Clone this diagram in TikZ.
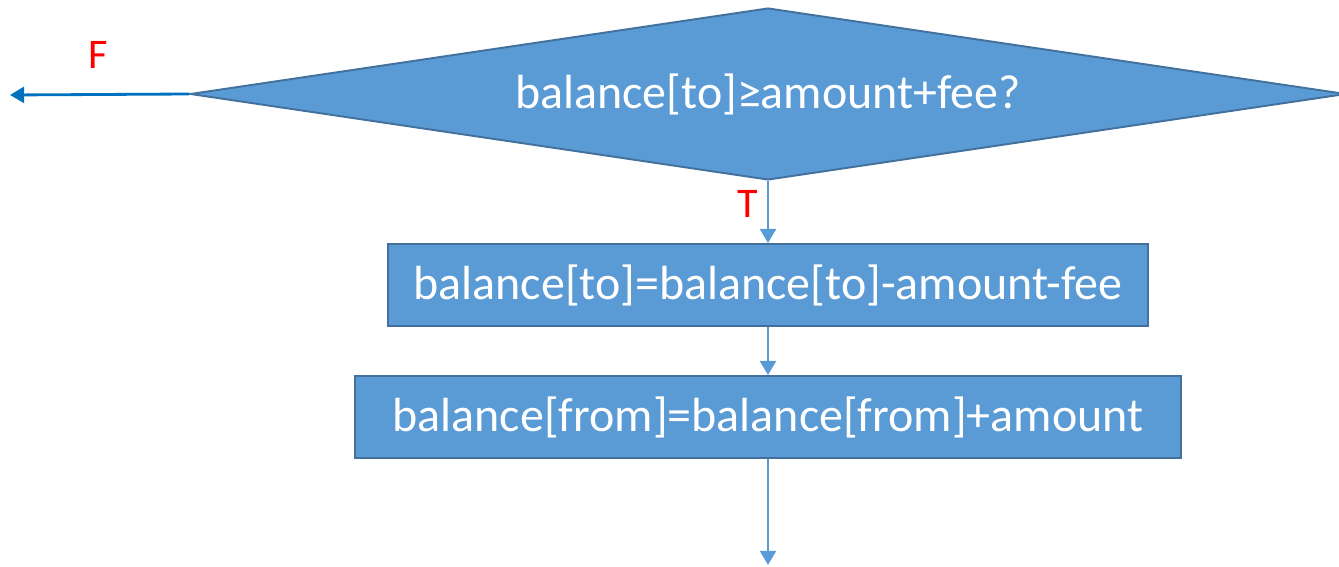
\documentclass[tikz,border=0pt]{standalone}
\usepackage{fontspec}
\setmainfont{Carlito}
\usetikzlibrary{shapes.geometric,positioning,arrows.meta}
\definecolor{boxfill}{HTML}{5B9BD5}
\definecolor{boxline}{HTML}{41719C}
\definecolor{flowline}{HTML}{5B9BD5}
\definecolor{falseline}{HTML}{0070C0}
\tikzset{>={Triangle[length=8pt,width=9pt]}}
\begin{document}
\begin{tikzpicture}[x=0.02cm, y=-0.02cm,
    decision/.style={diamond, aspect=6.72, draw=boxline, fill=boxfill, line width=1.1pt, text=white,
        minimum width=23.12cm, minimum height=3.44cm, inner sep=0pt, font=\fontsize{27.3}{30}\selectfont},
    process/.style={rectangle, draw=boxline, fill=boxfill, line width=1.1pt, text=white,
        minimum height=1.64cm, font=\fontsize{27.3}{30}\selectfont},
    flow/.style={->, draw=flowline, line width=1.6pt},
    answer/.style={text=red, font=\fontsize{24}{28}\selectfont}]
    \useasboundingbox (0,0) rectangle (1339,567);
    \node[decision] (test) at (768,94) {balance[to]≥amount+fee?};
    \node[process, minimum width=15.22cm] (debit) at (768,285) {balance[to]=balance[to]-amount-fee};
    \node[process, minimum width=16.52cm] (credit) at (768,417) {balance[from]=balance[from]+amount};
    \coordinate (exit) at (768,565);
    \coordinate (fail) at (10,95);
    \draw[flow] (test.south) -- (debit.north);
    \draw[flow] (debit.south) -- (credit.north);
    \draw[flow] (credit.south) -- (exit);
    \draw[->, draw=falseline, line width=1.6pt] (test.west) -- (fail);
    \node[answer] (no) at (98,55) {F};
    \node[answer] (yes) at (748,204) {T};
\end{tikzpicture}
\end{document}
